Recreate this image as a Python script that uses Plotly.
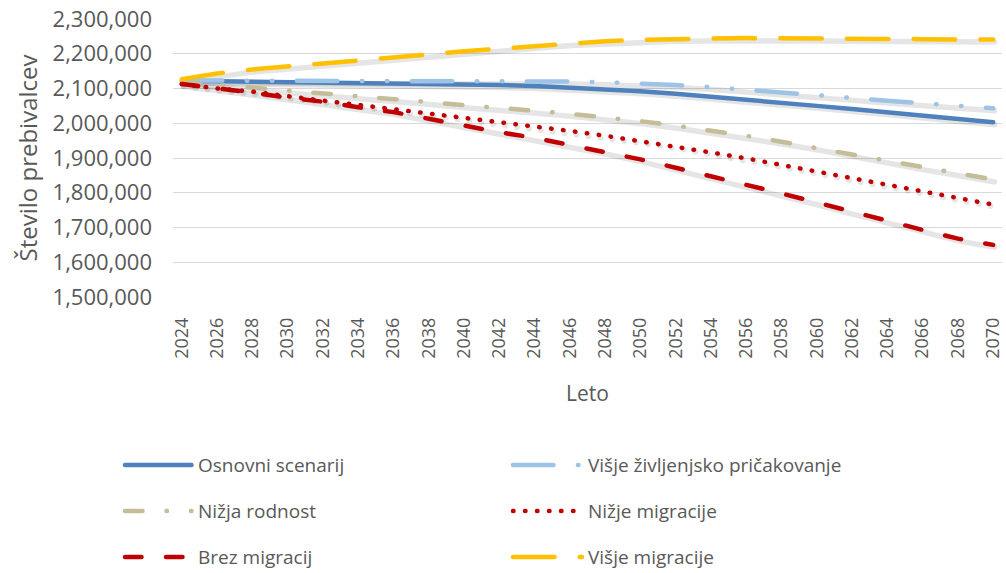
import plotly.graph_objects as go

# ---- data (thousands of inhabitants) ----
years = [2024, 2026, 2028, 2030, 2032, 2034, 2036, 2038, 2040, 2042, 2044, 2046,
         2048, 2050, 2052, 2054, 2056, 2058, 2060, 2062, 2064, 2066, 2068, 2070]
tick_years = years

osnovni = [2122, 2121, 2120, 2119, 2118, 2117, 2116, 2114, 2112, 2110, 2107, 2103,
           2098, 2092, 2085, 2077, 2068, 2059, 2050, 2041, 2031, 2022, 2012, 2003]
visje_zivljenjsko = [2123, 2123, 2122, 2122, 2122, 2122, 2122, 2122, 2122, 2121, 2121, 2120,
                     2118, 2115, 2110, 2104, 2097, 2089, 2081, 2073, 2065, 2058, 2050, 2043]
nizja_rodnost = [2119, 2111, 2103, 2095, 2088, 2079, 2069, 2061, 2052, 2045, 2036, 2027,
                 2017, 2006, 1993, 1979, 1964, 1947, 1930, 1910, 1892, 1873, 1856, 1838]
nizje_migracije = [2113, 2100, 2091, 2077, 2065, 2053, 2041, 2028, 2016, 2003, 1991, 1978,
                   1964, 1949, 1934, 1916, 1899, 1880, 1861, 1841, 1822, 1803, 1784, 1766]
brez_migracij = [2113, 2102, 2088, 2074, 2062, 2046, 2032, 2013, 1992, 1974, 1958, 1938,
                 1918, 1896, 1872, 1848, 1822, 1798, 1772, 1745, 1718, 1693, 1668, 1650]
visje_migracije = [2127, 2143, 2155, 2163, 2172, 2180, 2189, 2198, 2207, 2215, 2223, 2231,
                   2236, 2240, 2243, 2244, 2245, 2245, 2244, 2243, 2243, 2242, 2241, 2241]

names = ["Osnovni scenarij", "Višje življenjsko pričakovanje", "Nižja rodnost",
         "Nižje migracije", "Brez migracij", "Višje migracije"]
values = [osnovni, visje_zivljenjsko, nizja_rodnost, nizje_migracije, brez_migracij, visje_migracije]

# ---- styles ----
colors = ["#4F81BD", "#9DC3E6", "#C4BD97", "#C00000", "#C00000", "#FFC000"]
dashes = ["solid",
          "40.5px,24.5px,0.5px,24.5px,0.5px,24.5px",
          "17.5px,24px,0.5px,24px",
          "0.5px,11.5px",
          "16.5px,24.5px",
          "41.5px,25.2px"]
shadow_dashes = ["solid", "solid", "solid", "0.5px,11.5px", "solid", "solid"]
LW = 4.5

TXT = "#595959"
FONT = "Open Sans"

# plot area in pixels
L, T, W, H = 173, 19, 829, 278

fig = go.Figure()

X0, X1 = 2023.5, 2070.5
Y0, Y1 = 1500000, 2300000
dx = 1.5 * (X1 - X0) / W
dy = 2.5 * (Y1 - Y0) / H

# soft drop shadows (base axes, shifted slightly down-right)
for vals, sd in zip(values, shadow_dashes):
    fig.add_trace(go.Scatter(
        x=years, y=[v * 1000 for v in vals], mode="lines",
        line=dict(color="rgba(0,0,0,0.10)", width=LW + 1, dash=sd),
        xaxis="x", yaxis="y", showlegend=False, hoverinfo="skip"))

for name, vals, c, d in zip(names, values, colors, dashes):
    fig.add_trace(go.Scatter(
        x=years, y=[v * 1000 for v in vals], mode="lines", name=name,
        line=dict(color=c, width=LW, dash=d),
        xaxis="x2", yaxis="y2", showlegend=False))

# ---- legend (2 columns x 3 rows), keys drawn with the same line styles ----
def px_x(p):
    return (p - L) / W

def px_y(p):
    return (T + H - p) / H

key_x = [(123, 193.5), (511, 584)]
text_x = [196, 586]
row_y = [465, 511, 557]
shapes, annotations = [], []
for i, (name, c, d) in enumerate(zip(names, colors, dashes)):
    col, row = i % 2, i // 2
    x_a, x_b = key_x[col]
    yy = px_y(row_y[row])
    shapes.append(dict(type="line", xref="paper", yref="paper",
                       x0=px_x(x_a + 2), x1=px_x(x_b - 2), y0=yy, y1=yy,
                       line=dict(color=c, width=LW, dash=d)))
    annotations.append(dict(text=name, xref="paper", yref="paper", x=px_x(text_x[col]), y=yy,
                            xanchor="left", yanchor="middle", showarrow=False,
                            font=dict(family=FONT, size=19, color=TXT)))

fig.update_layout(
    width=1006, height=573,
    margin=dict(l=L, r=1006 - L - W, t=T, b=573 - T - H, autoexpand=False),
    paper_bgcolor="white", plot_bgcolor="white",
    font=dict(family=FONT, color=TXT),
    showlegend=False,
    xaxis=dict(visible=False, range=[X0 - dx, X1 - dx], fixedrange=True, automargin=False),
    yaxis=dict(visible=False, range=[Y0 + dy, Y1 + dy], fixedrange=True, automargin=False),
    xaxis2=dict(overlaying="x", anchor="y2", side="bottom", range=[X0, X1], automargin=False,
                tickmode="array", tickvals=tick_years, ticktext=[str(y) for y in tick_years],
                tickangle=-90, ticks="", showgrid=False, zeroline=False, showline=False,
                tickfont=dict(family=FONT, size=18, color=TXT), ticklabelstandoff=16,
                title=dict(text="Leto", font=dict(family=FONT, size=21, color=TXT), standoff=28)),
    yaxis2=dict(overlaying="y", anchor="x2", side="left", range=[Y0, Y1], automargin=False,
                dtick=100000, tickformat=",d", ticks="", showgrid=True,
                gridcolor="#D9D9D9", gridwidth=1.4, zeroline=False, showline=False,
                tickfont=dict(family=FONT, size=22, color=TXT), ticklabelstandoff=20,
                title=dict(text="Število prebivalcev", font=dict(family=FONT, size=24, color=TXT),
                           standoff=8)),
    shapes=shapes,
    annotations=annotations,
)

js = ("var s=document.createElement('style');"
      "s.textContent='html,body{margin:0;padding:0;overflow:hidden;}"
      " path.js-line, .shapelayer path{stroke-linecap:round !important;}';"
      "document.head.appendChild(s);")
fig.write_html("out.html", post_script=js, config={"displayModeBar": False})
